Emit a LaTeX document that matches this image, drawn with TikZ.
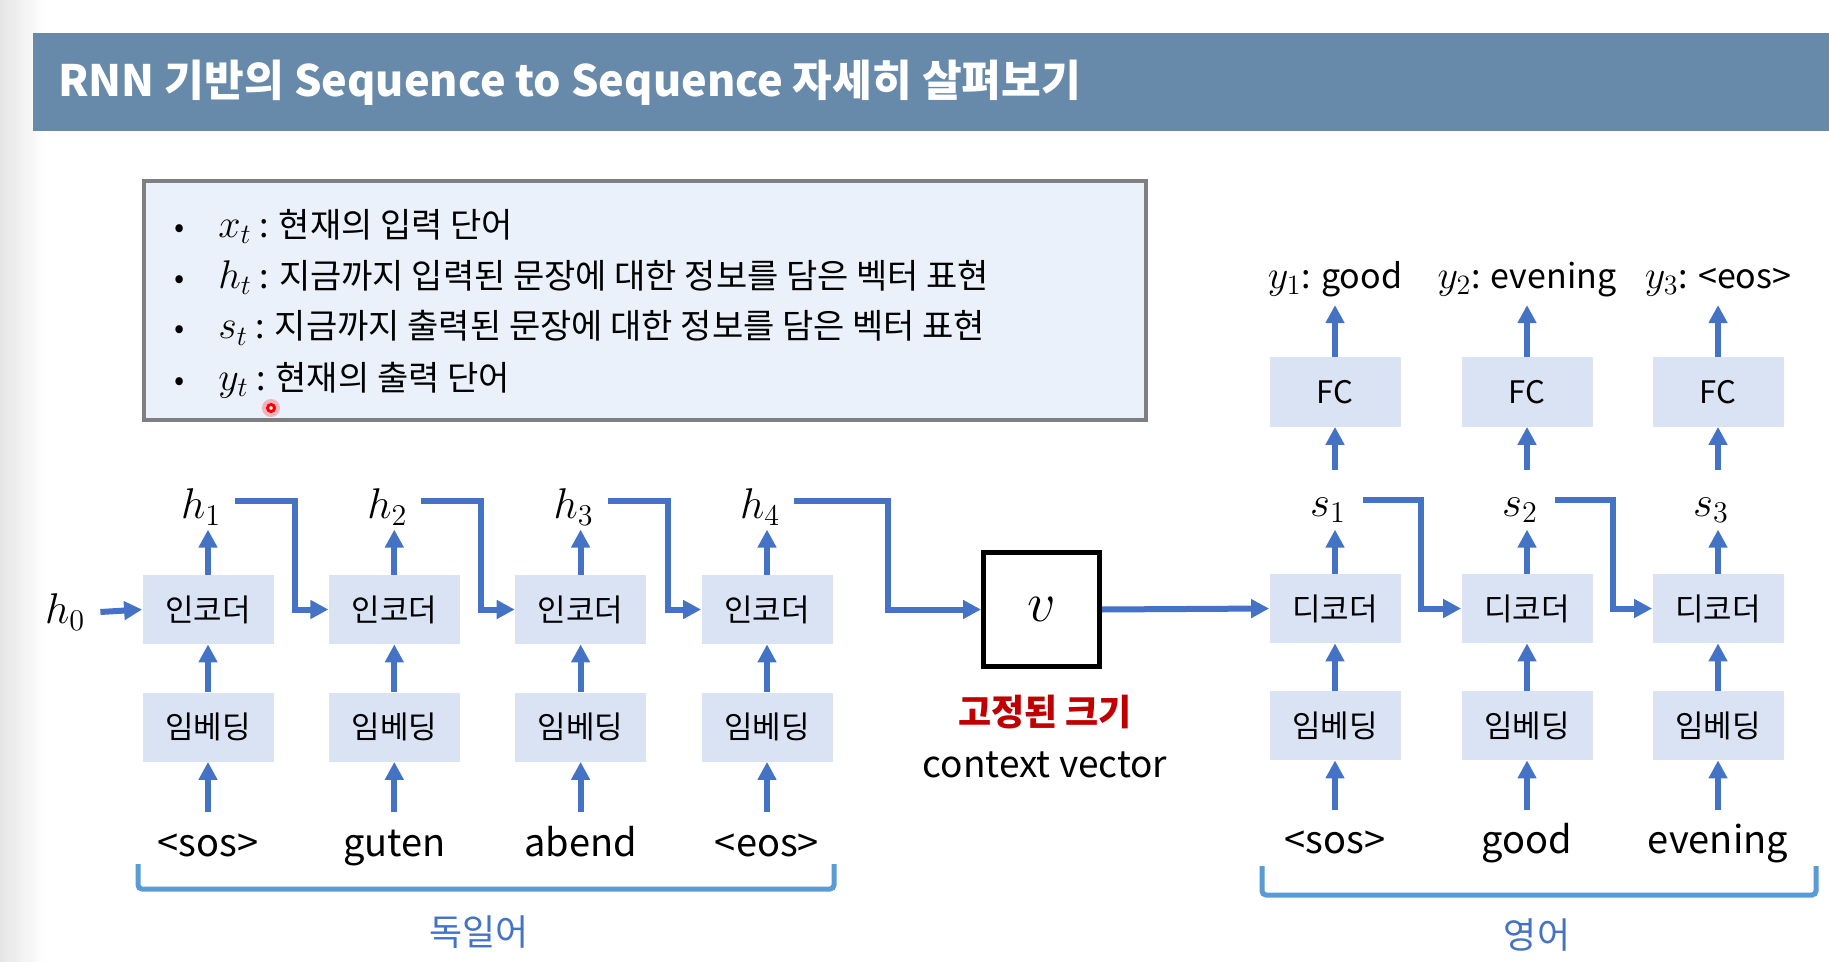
\RequirePackage{fix-cm}
\documentclass[tikz,border=0pt]{standalone}
\usepackage{fontspec}
\setmainfont{Noto Sans CJK KR}
\usetikzlibrary{arrows.meta,calc}

\definecolor{titlebar}{RGB}{103,137,170}
\definecolor{infofill}{RGB}{235,241,250}
\definecolor{infoline}{RGB}{127,127,127}
\definecolor{boxfill}{RGB}{218,227,243}
\definecolor{arrowblue}{RGB}{68,114,196}
\definecolor{bracketblue}{RGB}{91,155,213}
\definecolor{fixedred}{RGB}{192,0,0}

\newcommand{\symvar}[1]{{\fontsize{20}{22}\selectfont$#1$}}

\tikzset{
  blk/.style={fill=boxfill, minimum width=65.5pt, minimum height=34.5pt,
    inner sep=0pt, font=\fontsize{15.5}{17}\selectfont},
  arr/.style={draw=arrowblue, line width=3pt,
    -{Triangle[width=9pt,length=9pt]}},
  word/.style={inner sep=0pt, anchor=base, font=\fontsize{19}{22}\selectfont},
  outlbl/.style={inner sep=0pt, anchor=base, font=\fontsize{17}{22}\selectfont},
  mathlbl/.style={inner sep=0pt, font=\fontsize{21.5}{23}\selectfont},
  bullettext/.style={anchor=base west, inner sep=0pt, font=\fontsize{17}{20}\selectfont},
  brk/.style={draw=bracketblue, line width=2.5pt, rounded corners=2pt},
  lang/.style={inner sep=0pt, text=arrowblue, font=\fontsize{18}{21}\selectfont},
}

\begin{document}
\begin{tikzpicture}[x=0.5pt,y=-0.5pt]
\useasboundingbox (0,0) rectangle (1829,962);
\fill[white] (0,0) rectangle (1829,962);
\shade[left color=black!10, right color=white] (0,0) rectangle (45,962);

% title bar
\fill[titlebar] (33,33) rectangle (1829,131);
\node[anchor=west, inner sep=0pt, text=white,
  font=\fontsize{21.6}{25}\selectfont\bfseries] (title) at (58,83)
  {RNN 기반의 Sequence to Sequence 자세히 살펴보기};

% notation box
\draw[fill=infofill, draw=infoline, line width=2pt] (144,181) rectangle (1146,420);
\foreach \yy/\txt [count=\k] in {
  238/{\symvar{x_t} : 현재의 입력 단어},
  289/{\symvar{h_t} : 지금까지 입력된 문장에 대한 정보를 담은 벡터 표현},
  339/{\symvar{s_t} : 지금까지 출력된 문장에 대한 정보를 담은 벡터 표현},
  390/{\symvar{y_t} : 현재의 출력 단어}} {
  \node[anchor=base, inner sep=0pt, font=\fontsize{15}{18}\selectfont] (b\k) at (180,\yy) {•};
  \node[bullettext] (n\k) at (218,\yy) {\txt};
}
% pointer mark
\fill[red, opacity=0.25] (271,408) circle (9);
\draw[red, line width=1.5pt, fill=white] (271,408) circle (3.5);

% encoder side
\foreach \i/\x/\w in {1/208/{<sos>}, 2/394.3/guten, 3/580.6/abend, 4/767/{<eos>}} {
  \node[blk] (e\i) at (\x,609.5) {인코더};
  \node[blk] (m\i) at (\x,727) {임베딩};
  \node[word] (w\i) at (\x,856) {\w};
  \node[mathlbl] (h\i) at (\x-7,507) {$h_\i$};
  \draw[arr] ($(m\i.south)+(0,50)$) -- (m\i.south);
  \draw[arr] (m\i.north) -- (e\i.south);
  \draw[arr] (e\i.north) -- ++(0,-45);
  \coordinate (ho\i) at (\x+27,501);
}
\node[mathlbl] (h0) at (65,612) {$h_0$};
\draw[arr] ($(h0.east)+(15,0)$) -- (e1.west);
\foreach \i/\j in {1/2, 2/3, 3/4}
  \draw[arr] (ho\i) -- ++(60,0) |- (e\j.west);

% context vector
\node[draw=black, line width=2.5pt, minimum width=58pt, minimum height=57pt,
  inner sep=0pt, font=\fontsize{28}{30}\selectfont] (v) at (1041.5,609.5) {$v$};
\draw[arr] (ho4) -- ++(94,0) |- (v.west);
\node[inner sep=0pt, text=fixedred, font=\fontsize{18}{22}\selectfont\bfseries] (fixed) at (1045,712) {고정된 크기};
\node[inner sep=0pt, font=\fontsize{18.5}{22}\selectfont] (ctx) at (1045,765) {context vector};

% decoder side
\foreach \i/\x/\w/\o in {1/1335/{<sos>}/good, 2/1527/good/evening, 3/1718/evening/{<eos>}} {
  \node[blk] (d\i) at (\x,608.5) {디코더};
  \node[blk] (dm\i) at (\x,725.5) {임베딩};
  \node[blk] (fc\i) at (\x,392) {FC};
  \node[word] (dw\i) at (\x,853) {\w};
  \node[mathlbl] (s\i) at (\x-7,510) {$s_\i$};
  \node[outlbl] (y\i) at (\x,289) {\symvar{y_\i}: \o};
  \draw[arr] ($(dm\i.south)+(0,50)$) -- (dm\i.south);
  \draw[arr] (dm\i.north) -- (d\i.south);
  \draw[arr] (d\i.north) -- ++(0,-44);
  \draw[arr] ($(fc\i.south)+(0,43)$) -- (fc\i.south);
  \draw[arr] (fc\i.north) -- ++(0,-52);
  \coordinate (so\i) at (\x+28,500);
}
\draw[arr] (v.east) -- (d1.west);
\foreach \i/\j in {1/2, 2/3}
  \draw[arr] (so\i) -- ++(58,0) |- (d\j.west);

% language brackets
\draw[brk] (138,864) -- (138,889) -- (834,889) -- (834,864);
\draw[brk] (1262,866) -- (1262,895) -- (1816,895) -- (1816,866);
\node[lang] (de) at (479,932) {독일어};
\node[lang] (en) at (1537,935) {영어};
\end{tikzpicture}
\end{document}
